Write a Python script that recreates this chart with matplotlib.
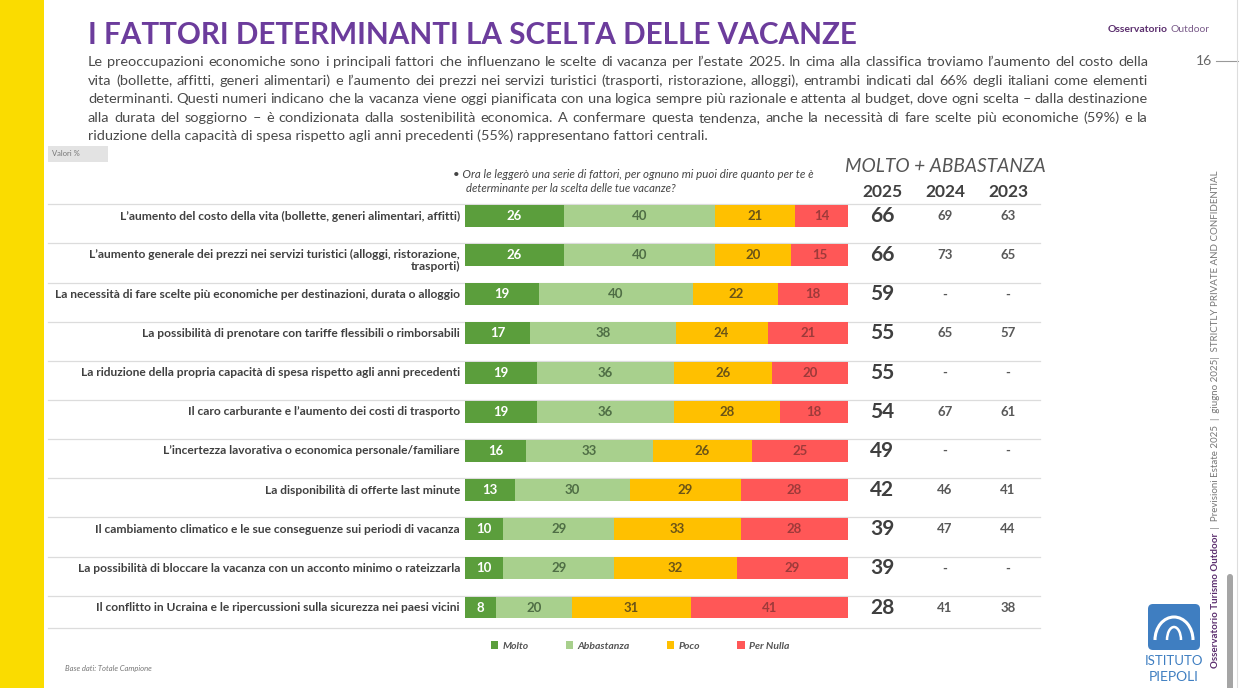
import matplotlib
matplotlib.use('Agg')
import matplotlib.pyplot as plt
import numpy as np
from matplotlib.patches import Rectangle, FancyBboxPatch, Arc
from matplotlib.lines import Line2D
from matplotlib.transforms import blended_transform_factory

plt.rcParams['font.family'] = ['Lato', 'DejaVu Sans']

# ---- data ----
factors = [
    "L’aumento del costo della vita (bollette, generi alimentari, affitti)",
    "L’aumento generale dei prezzi nei servizi turistici (alloggi, ristorazione,\ntrasporti)",
    "La necessità di fare scelte più economiche per destinazioni, durata o alloggio",
    "La possibilità di prenotare con tariffe flessibili o rimborsabili",
    "La riduzione della propria capacità di spesa rispetto agli anni precedenti",
    "Il caro carburante e l’aumento dei costi di trasporto",
    "L’incertezza lavorativa o economica personale/familiare",
    "La disponibilità di offerte last minute",
    "Il cambiamento climatico e le sue conseguenze sui periodi di vacanza",
    "La possibilità di bloccare la vacanza con un acconto minimo o rateizzarla",
    "Il conflitto in Ucraina e le ripercussioni sulla sicurezza nei paesi vicini",
]
molto = [26, 26, 19, 17, 19, 19, 16, 13, 10, 10, 8]
abbastanza = [40, 40, 40, 38, 36, 36, 33, 30, 29, 29, 20]
poco = [21, 20, 22, 24, 26, 28, 26, 29, 33, 32, 31]
per_nulla = [14, 15, 18, 21, 20, 18, 25, 28, 28, 29, 41]
tot_2025 = [66, 66, 59, 55, 55, 54, 49, 42, 39, 39, 28]
tot_2024 = [69, 73, None, 65, None, 67, None, 46, 47, None, 41]
tot_2023 = [63, 65, None, 57, None, 61, None, 41, 44, None, 38]
years = ['2025', '2024', '2023']
series_names = ['Molto', 'Abbastanza', 'Poco', 'Per Nulla']

title = "I FATTORI DETERMINANTI LA SCELTA DELLE VACANZE"
paragraph = [
    "Le preoccupazioni economiche sono i principali fattori che influenzano le scelte di vacanza per l’estate 2025. In cima alla classifica troviamo l’aumento del costo della",
    "vita (bollette, affitti, generi alimentari) e l’aumento dei prezzi nei servizi turistici (trasporti, ristorazione, alloggi), entrambi indicati dal 66% degli italiani come elementi",
    "determinanti. Questi numeri indicano che la vacanza viene oggi pianificata con una logica sempre più razionale e attenta al budget, dove ogni scelta – dalla destinazione",
    "alla durata del soggiorno – è condizionata dalla sostenibilità economica. A confermare questa tendenza, anche la necessità di fare scelte più economiche (59%) e la",
    "riduzione della capacità di spesa rispetto agli anni precedenti (55%) rappresentano fattori centrali.",
]
question = ["• Ora le leggerò una serie di fattori, per ognuno mi puoi dire quanto per te è",
            "determinante per la scelta delle tue vacanze?"]

colors = ['#5B9E3C', '#A8D08D', '#FFC000', '#FF5757']
text_colors = ['white', '#4F6E45', '#6B5417', '#9E3A3A']
purple = '#6C3C9C'

W, H = 1240, 688
fig = plt.figure(figsize=(12.4, 6.88), dpi=100)
bg = fig.add_axes([0, 0, 1, 1])
bg.set_xlim(0, W)
bg.set_ylim(H, 0)
bg.axis('off')
renderer = fig.canvas.get_renderer()


def fit(x, y, s, width, size0=10, **kw):
    t = bg.text(x, y, s, fontsize=size0, **kw)
    w = t.get_window_extent(renderer).width
    t.set_fontsize(size0 * width / w)
    return t


def justify(x0, x1, y, line, size, **kw):
    words = line.split()
    ts = [bg.text(0, y, w, fontsize=size, va='baseline', **kw) for w in words]
    ws = [t.get_window_extent(renderer).width for t in ts]
    gap = (x1 - x0 - sum(ws)) / (len(words) - 1)
    x = x0
    for t, w in zip(ts, ws):
        t.set_x(x)
        x += w + gap


# left yellow band
bg.add_patch(Rectangle((0, 0), 44, H, color='#FADC00', lw=0))

# title + paragraph
fit(88, 35, title, 770, color=purple, fontweight='bold', va='center')
last = fit(88, 140, paragraph[-1], 618, color='#4A4A4A', va='baseline')
psize = last.get_fontsize()
for k, line in enumerate(paragraph[:-1]):
    justify(88, 1148, 66 + k * 18.6, line, psize, color='#4A4A4A')

# header right
t1 = bg.text(1210, 30, "Outdoor", fontsize=7.5, color='#7A5C8A', ha='right', va='center')
w1 = t1.get_window_extent(renderer).width
bg.text(1210 - w1 - 3, 30, "Osservatorio", fontsize=7.5, color='#5B2E6E',
        fontweight='bold', ha='right', va='center')
bg.text(1212, 61, "16", fontsize=10, color='#666666', ha='right', va='center')
bg.add_line(Line2D([1216, 1238], [61, 61], color='#999999', lw=0.8))
bg.add_line(Line2D([1237, 1237], [0, H], color='#DDDDDD', lw=0.8))

# Valori %
bg.add_patch(Rectangle((48, 146), 60, 16, color='#E3E3E3', lw=0))
bg.text(52, 154, "Valori %", fontsize=5.5, color='#777777', va='center')

# question
fit(453, 175, question[0], 358, color='#444444', style='italic', va='center')
fit(466, 189, question[1], 210, color='#444444', style='italic', va='center')

# ---- bar chart ----
n = len(factors)
ax = fig.add_axes([465 / W, 1 - 627.1 / H, 383 / W, 430.7 / H])
ax.set_xlim(0, 100)
ax.set_ylim(n - 0.5, -0.5)
ax.axis('off')

data = np.array([molto, abbastanza, poco, per_nulla], dtype=float)
share = data / data.sum(axis=0) * 100
ypos = np.arange(n)
left = np.zeros(n)
for s in range(4):
    ax.barh(ypos, share[s], left=left, height=0.56, color=colors[s], lw=0,
            label=series_names[s])
    for i in range(n):
        ax.text(left[i] + share[s][i] / 2, ypos[i], f"{int(data[s][i])}",
                ha='center', va='center', fontsize=9.5, fontweight='bold',
                color=text_colors[s])
    left += share[s]

trans = blended_transform_factory(bg.transData, ax.transData)

# row separators
for i in range(n):
    bg.add_line(Line2D([48, 1040], [i - 0.3, i - 0.3], transform=trans,
                       color='#DCDCDC', lw=0.9))
bg.add_line(Line2D([48, 1040], [n - 0.48, n - 0.48], transform=trans,
                   color='#DCDCDC', lw=0.9))

# labels
lab_probe = bg.text(0, 0, factors[2], fontsize=10, fontweight='bold')
lab_size = 10 * 408 / lab_probe.get_window_extent(renderer).width
lab_probe.remove()
for i, lab in enumerate(factors):
    off = 0.14 if '\n' in lab else 0
    bg.text(460, i + off, lab, transform=trans, ha='right', va='center',
            fontsize=lab_size, fontweight='bold', color='#404040',
            multialignment='right', linespacing=1.1)

# totals
col_x = [882, 945, 1008]
fit(945, 166, "MOLTO + ABBASTANZA", 200, color='#555555', style='italic',
    ha='center', va='center')
for x, yr in zip(col_x, years):
    bg.text(x, 192, yr, fontsize=12.5, fontweight='bold', color='#404040',
            ha='center', va='center')
for i in range(n):
    bg.text(col_x[0], i, str(tot_2025[i]), transform=trans, ha='center',
            va='center', fontsize=15, fontweight='bold', color='#3F3F3F')
    for x, vals in zip(col_x[1:], [tot_2024, tot_2023]):
        v = vals[i]
        bg.text(x, i, '-' if v is None else str(v), transform=trans,
                ha='center', va='center', fontsize=9.5, fontweight='bold',
                color='#595959')

# legend
handles, labels = ax.get_legend_handles_labels()
fig.legend(handles, labels, loc='center', bbox_to_anchor=(640 / W, 1 - 646 / H),
           ncol=4, frameon=False, handlelength=0.7, handleheight=0.7,
           handletextpad=0.4, columnspacing=3.6,
           prop={'size': 7.5, 'style': 'italic', 'weight': 'bold'},
           labelcolor='#555555')

bg.text(65, 669, "Base dati: Totale Campione", fontsize=5.5, style='italic',
        color='#777777', va='center')

# vertical footer text
v1 = bg.text(1215, 668, "Osservatorio Turismo Outdoor", rotation=90, fontsize=7,
             fontweight='bold', color='#5B2E6E', ha='center', va='bottom')
h1 = v1.get_window_extent(renderer).height
bg.text(1215, 668 - h1 - 2,
        " |  Previsioni Estate 2025  |  giugno 2025|  STRICTLY PRIVATE AND CONFIDENTIAL",
        rotation=90, fontsize=7, color='#777777', ha='center', va='bottom')

# logo
bg.add_patch(FancyBboxPatch((1148, 604), 52, 46, boxstyle='round,pad=0,rounding_size=5',
                            color='#3F7EC1', lw=0))
bg.add_patch(Arc((1174, 640), 38, 46, theta1=180, theta2=360, color='white', lw=2.2))
bg.add_patch(Arc((1174, 640), 14, 26, theta1=180, theta2=360, color='white', lw=1.8))
bg.text(1174, 661, "ISTITUTO", fontsize=9.5, color='#3F7EC1', ha='center', va='center')
bg.text(1174, 677, "PIEPOLI", fontsize=10, color='#3F7EC1', ha='center', va='center')

# scrollbar
bg.add_patch(FancyBboxPatch((1227, 574), 6, 120, boxstyle='round,pad=0,rounding_size=3',
                            color='#A5A5A5', lw=0))

fig.savefig('out.png', dpi=100)
